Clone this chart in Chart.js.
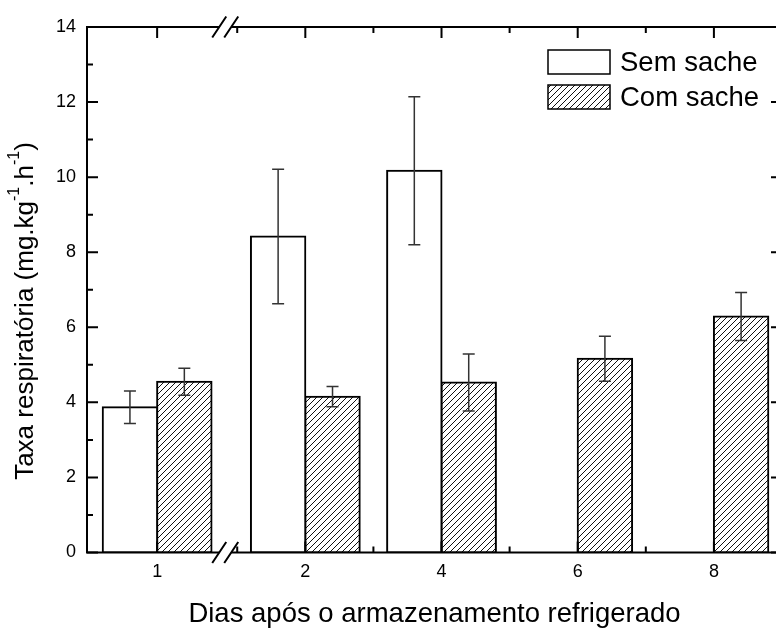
<!DOCTYPE html>
<html>
<head>
<meta charset="utf-8">
<script src="https://cdn.jsdelivr.net/npm/chart.js@4.4.1/dist/chart.umd.min.js"></script>
<style>
  html, body { margin: 0; padding: 0; overflow: hidden; background: #fff; }
  canvas { display: block; }
</style>
</head>
<body>
<canvas id="c" width="800" height="629"></canvas>
<script>
// Storage days and the measured respiration rates (mg.kg-1.h-1)
const days = ['1', '2', '4', '6', '8'];
const dayValues = [1, 2, 4, 6, 8];
const semSache = [3.87, 8.42, 10.17, null, null];
const semSacheErr = [0.43, 1.79, 1.97, null, null];
const comSache = [4.55, 4.15, 4.53, 5.16, 6.29];
const comSacheErr = [0.36, 0.27, 0.76, 0.60, 0.64];
const yTicks = [0, 2, 4, 6, 8, 10, 12, 14];
const xMinorTicks = [1, 3, 5, 7];
const seriesNames = ['Sem sache', 'Com sache'];
const xTitle = 'Dias após o armazenamento refrigerado';
const yTitleParts = [
  { text: 'Taxa respiratória (mg.kg' },
  { text: '-1', sup: true },
  { text: '.h' },
  { text: '-1', sup: true },
  { text: ')' }
];

// Broken x axis: days before the break are shifted onto a short left segment
const BREAK_AT = 1.5;
const BREAK_SHIFT = 1.176;
const BREAK_POS = 0.824;
const X_MIN = -1.206;
const X_MAX = 9;
function axisX(d) { return d < BREAK_AT ? d - BREAK_SHIFT : d; }

const FONT = '"Liberation Sans", Arial, Helvetica, sans-serif';
const canvas = document.getElementById('c');
const ctx = canvas.getContext('2d');

// Diagonal hatch fill for the "Com sache" bars
function makeHatch() {
  const s = 6;
  const tile = document.createElement('canvas');
  tile.width = s; tile.height = s;
  const g = tile.getContext('2d');
  g.fillStyle = '#fff';
  g.fillRect(0, 0, s, s);
  g.strokeStyle = '#111';
  g.lineWidth = 1;
  g.beginPath();
  g.moveTo(-1, s + 1); g.lineTo(s + 1, -1);
  g.moveTo(-1, 1); g.lineTo(1, -1);
  g.moveTo(s - 1, s + 1); g.lineTo(s + 1, s - 1);
  g.stroke();
  return ctx.createPattern(tile, 'repeat');
}
const hatch = makeHatch();

const errorBarsAndFrame = {
  id: 'errorBarsAndFrame',
  afterDatasetsDraw(chart) {
    const { ctx, chartArea: a, scales: { x, y } } = chart;
    ctx.save();

    // error bars
    ctx.strokeStyle = '#333';
    ctx.lineWidth = 1.5;
    chart.data.datasets.forEach((ds, di) => {
      const meta = chart.getDatasetMeta(di);
      meta.data.forEach((bar, i) => {
        const v = ds.data[i].y, e = ds.errors[i];
        if (v == null || e == null) return;
        const yt = y.getPixelForValue(v + e);
        const yb = y.getPixelForValue(v - e);
        const cx = bar.x, cap = 6;
        ctx.beginPath();
        ctx.moveTo(cx, yt); ctx.lineTo(cx, yb);
        ctx.moveTo(cx - cap, yt); ctx.lineTo(cx + cap, yt);
        ctx.moveTo(cx - cap, yb); ctx.lineTo(cx + cap, yb);
        ctx.stroke();
      });
    });

    // axis frame with break on the x axis
    ctx.strokeStyle = '#000';
    ctx.lineWidth = 2;
    ctx.lineCap = 'butt';
    const bx = x.getPixelForValue(BREAK_POS);
    const half = 6;
    ctx.beginPath();
    ctx.moveTo(a.left, a.top - 1); ctx.lineTo(a.left, a.bottom + 1);
    ctx.moveTo(a.right, a.top - 1); ctx.lineTo(a.right, a.bottom + 1);
    [a.top, a.bottom].forEach(yy => {
      ctx.moveTo(a.left - 1, yy); ctx.lineTo(bx - half, yy);
      ctx.moveTo(bx + half, yy); ctx.lineTo(a.right + 1, yy);
    });
    ctx.stroke();

    // break marks
    ctx.beginPath();
    [a.top, a.bottom].forEach(yy => {
      [bx - half, bx + half].forEach(cx => {
        ctx.moveTo(cx - 7, yy + 10.5);
        ctx.lineTo(cx + 7, yy - 10.5);
      });
    });
    ctx.stroke();

    // ticks (all pointing inward)
    const major = 11, minor = 6;
    ctx.beginPath();
    yTicks.forEach(t => {
      const py = y.getPixelForValue(t);
      ctx.moveTo(a.left, py); ctx.lineTo(a.left + major, py);
      ctx.moveTo(a.right, py); ctx.lineTo(a.right - major, py);
    });
    for (let i = 0; i < yTicks.length - 1; i++) {
      const py = y.getPixelForValue((yTicks[i] + yTicks[i + 1]) / 2);
      ctx.moveTo(a.left, py); ctx.lineTo(a.left + minor, py);
      ctx.moveTo(a.right, py); ctx.lineTo(a.right - minor, py);
    }
    dayValues.forEach(d => {
      const px = x.getPixelForValue(axisX(d));
      ctx.moveTo(px, a.bottom); ctx.lineTo(px, a.bottom - major);
      ctx.moveTo(px, a.top); ctx.lineTo(px, a.top + major);
    });
    xMinorTicks.forEach(t => {
      const px = x.getPixelForValue(t);
      ctx.moveTo(px, a.bottom); ctx.lineTo(px, a.bottom - minor);
      ctx.moveTo(px, a.top); ctx.lineTo(px, a.top + minor);
    });
    ctx.stroke();
    ctx.restore();
  },
  afterDraw(chart, args, opts) {
    const { ctx } = chart;
    ctx.save();

    // y axis title with superscripts, rotated
    const size = opts.yTitleSize, supSize = Math.round(size * 0.62);
    const widths = yTitleParts.map(p => {
      ctx.font = `${p.sup ? supSize : size}px ${FONT}`;
      return ctx.measureText(p.text).width;
    });
    const total = widths.reduce((s, w) => s + w, 0);
    ctx.translate(opts.yTitleX, opts.yTitleY);
    ctx.rotate(-Math.PI / 2);
    ctx.fillStyle = '#000';
    ctx.textBaseline = 'middle';
    ctx.textAlign = 'left';
    let cx = -total / 2;
    yTitleParts.forEach((p, i) => {
      ctx.font = `${p.sup ? supSize : size}px ${FONT}`;
      ctx.fillText(p.text, cx, p.sup ? -size * 0.42 : 0);
      cx += widths[i];
    });
    ctx.setTransform(1, 0, 0, 1, 0, 0);

    // legend
    const L = opts.legend;
    chart.data.datasets.forEach((ds, i) => {
      const top = L.y + i * L.rowGap;
      ctx.fillStyle = ds.backgroundColor;
      ctx.fillRect(L.x, top, L.boxW, L.boxH);
      ctx.strokeStyle = '#000';
      ctx.lineWidth = 1.5;
      ctx.strokeRect(L.x, top, L.boxW, L.boxH);
      ctx.fillStyle = '#000';
      ctx.font = `${L.fontSize}px ${FONT}`;
      ctx.textBaseline = 'middle';
      ctx.textAlign = 'left';
      ctx.fillText(ds.label, L.x + L.boxW + L.textGap, top + L.boxH / 2 + 1);
    });
    ctx.restore();
  }
};

const barStyle = {
  borderColor: '#000',
  borderWidth: 2,
  inflateAmount: 1,
  borderSkipped: false,
  barThickness: 54.4
};

new Chart(ctx, {
  type: 'bar',
  data: {
    datasets: [
      Object.assign({
        label: seriesNames[0],
        data: dayValues.map((d, i) => ({ x: axisX(d), y: semSache[i] })),
        errors: semSacheErr,
        backgroundColor: '#fff'
      }, barStyle),
      Object.assign({
        label: seriesNames[1],
        data: dayValues.map((d, i) => ({ x: axisX(d), y: comSache[i] })),
        errors: comSacheErr,
        backgroundColor: hatch
      }, barStyle)
    ]
  },
  options: {
    responsive: false,
    animation: false,
    devicePixelRatio: 1,
    layout: { padding: { left: 0, right: 18, top: 27, bottom: 0 } },
    plugins: {
      legend: { display: false },
      tooltip: { enabled: false },
      errorBarsAndFrame: {
        yTitleX: 26,
        yTitleY: 311,
        yTitleSize: 26,
        legend: { x: 548, y: 50, boxW: 62, boxH: 24, rowGap: 35, textGap: 10, fontSize: 27.5 }
      }
    },
    scales: {
      x: {
        type: 'linear',
        offset: false,
        min: X_MIN,
        max: X_MAX,
        grid: { display: false, drawTicks: false, offset: false },
        border: { display: false },
        afterBuildTicks: s => { s.ticks = dayValues.map(d => ({ value: axisX(d) })); },
        afterFit: s => { s.height = 76.5; },
        ticks: {
          autoSkip: false,
          maxRotation: 0,
          padding: 9,
          color: '#000',
          font: { family: FONT, size: 18 },
          callback: (v, i) => days[i]
        },
        title: {
          display: true,
          text: xTitle,
          color: '#000',
          font: { family: FONT, size: 27.5 },
          padding: { top: 0, bottom: -2 }
        }
      },
      y: {
        min: 0,
        max: 14,
        grid: { display: false, drawTicks: false },
        border: { display: false },
        afterBuildTicks: s => { s.ticks = yTicks.map(v => ({ value: v })); },
        afterFit: s => { s.width = 87; },
        ticks: {
          padding: 11,
          color: '#000',
          font: { family: FONT, size: 18 }
        }
      }
    }
  },
  plugins: [errorBarsAndFrame]
});
</script>
</body>
</html>
